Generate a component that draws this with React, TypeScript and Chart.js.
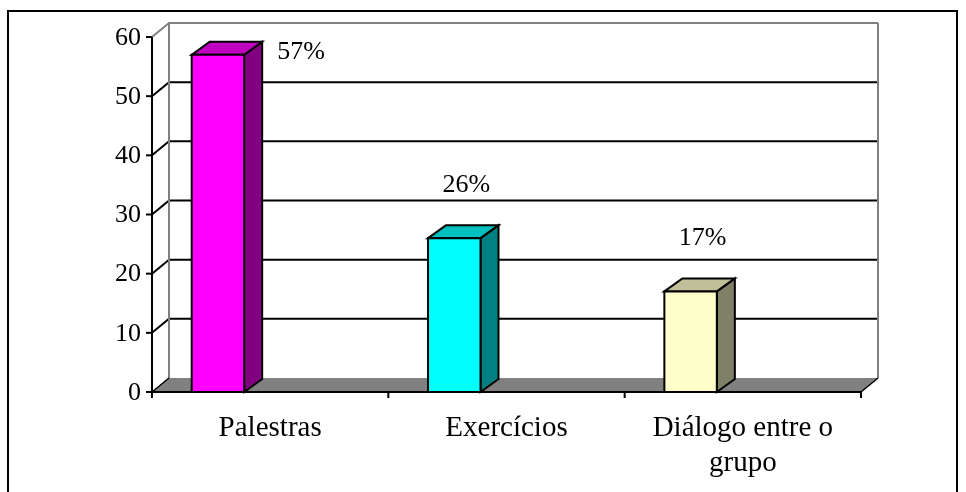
import React, { useEffect, useRef } from "react";
import { Chart, registerables } from "chart.js";

Chart.register(...registerables);

// ---- data ----
const categories: string[][] = [["Palestras"], ["Exercícios"], ["Diálogo entre o", "grupo"]];
const values: number[] = [57, 26, 17];
const valueLabels: string[] = ["57%", "26%", "17%"];
const yMin = 0;
const yMax = 60;
const yStep = 10;

// ---- styles ----
const frontColors = ["#FF00FF", "#00FFFF", "#FFFFCC"];
const topColors = ["#BF00BF", "#00BFBF", "#BFBF99"];
const sideColors = ["#800080", "#008080", "#808066"];
const FONT = '"Liberation Serif", "Times New Roman", serif';

const wallDx = 17;
const wallDy = -14;
const barDx = 18;
const barDy = -13;

const excel3d = {
  id: "excel3d",
  afterDatasetsDraw(chart: any) {
    const ctx: CanvasRenderingContext2D = chart.ctx;
    const xs = chart.scales.x;
    const ys = chart.scales.y;
    const area = chart.chartArea;
    const xL = area.left;
    const xR = area.right;
    const y0 = ys.getPixelForValue(yMin);
    const yTop = ys.getPixelForValue(yMax);
    const n = values.length;
    const catW = (xR - xL) / n;

    ctx.save();
    ctx.lineCap = "butt";
    ctx.lineJoin = "miter";

    // outer frame
    ctx.strokeStyle = "#000";
    ctx.lineWidth = 2;
    ctx.strokeRect(8, 11, 949, 520);

    // back wall gridlines
    for (let v = yMin + yStep; v <= yMax; v += yStep) {
      const yf = ys.getPixelForValue(v);
      ctx.beginPath();
      ctx.moveTo(xL, yf);
      ctx.lineTo(xL + wallDx, yf + wallDy);
      ctx.lineTo(xR + wallDx, yf + wallDy);
      ctx.strokeStyle = v === yMax ? "#808080" : "#000";
      ctx.lineWidth = 2;
      ctx.stroke();
    }
    // wall vertical edges
    ctx.strokeStyle = "#808080";
    ctx.lineWidth = 2;
    ctx.beginPath();
    ctx.moveTo(xL + wallDx, yTop + wallDy);
    ctx.lineTo(xL + wallDx, y0 + wallDy);
    ctx.moveTo(xR + wallDx, yTop + wallDy);
    ctx.lineTo(xR + wallDx, y0 + wallDy);
    ctx.stroke();

    // floor
    ctx.beginPath();
    ctx.moveTo(xL, y0);
    ctx.lineTo(xR, y0);
    ctx.lineTo(xR + wallDx, y0 + wallDy);
    ctx.lineTo(xL + wallDx, y0 + wallDy);
    ctx.closePath();
    ctx.fillStyle = "#808080";
    ctx.fill();
    ctx.strokeStyle = "#000";
    ctx.lineWidth = 1.5;
    ctx.beginPath();
    ctx.moveTo(xL, y0);
    ctx.lineTo(xL + wallDx, y0 + wallDy);
    ctx.moveTo(xR, y0);
    ctx.lineTo(xR + wallDx, y0 + wallDy);
    ctx.stroke();

    // y axis
    ctx.strokeStyle = "#000";
    ctx.lineWidth = 2;
    ctx.beginPath();
    ctx.moveTo(xL, yTop);
    ctx.lineTo(xL, y0 + 1);
    ctx.stroke();
    ctx.font = `26px ${FONT}`;
    ctx.fillStyle = "#000";
    ctx.textAlign = "right";
    ctx.textBaseline = "middle";
    for (let v = yMin; v <= yMax; v += yStep) {
      const y = ys.getPixelForValue(v);
      ctx.beginPath();
      ctx.moveTo(xL - 6, y);
      ctx.lineTo(xL, y);
      ctx.stroke();
      ctx.fillText(String(v), xL - 11, y + 1);
    }

    // x axis
    ctx.beginPath();
    ctx.moveTo(xL - 1, y0);
    ctx.lineTo(xR, y0);
    ctx.stroke();
    for (let i = 0; i <= n; i++) {
      const x = xL + catW * i;
      ctx.beginPath();
      ctx.moveTo(x, y0);
      ctx.lineTo(x, y0 + 6);
      ctx.stroke();
    }

    // bars
    for (let i = 0; i < n; i++) {
      const cx = xs.getPixelForValue(i);
      const left = cx - catW * 0.332;
      const right = left + catW * 0.222;
      const top = ys.getPixelForValue(values[i]);
      ctx.lineWidth = 2;
      ctx.strokeStyle = "#000";
      // side
      ctx.beginPath();
      ctx.moveTo(right, y0);
      ctx.lineTo(right + barDx, y0 + barDy);
      ctx.lineTo(right + barDx, top + barDy);
      ctx.lineTo(right, top);
      ctx.closePath();
      ctx.fillStyle = sideColors[i];
      ctx.fill();
      ctx.stroke();
      // top
      ctx.beginPath();
      ctx.moveTo(left, top);
      ctx.lineTo(left + barDx, top + barDy);
      ctx.lineTo(right + barDx, top + barDy);
      ctx.lineTo(right, top);
      ctx.closePath();
      ctx.fillStyle = topColors[i];
      ctx.fill();
      ctx.stroke();
      // front
      ctx.beginPath();
      ctx.rect(left, top, right - left, y0 - top);
      ctx.fillStyle = frontColors[i];
      ctx.fill();
      ctx.stroke();

      // value label
      ctx.fillStyle = "#000";
      ctx.font = `26px ${FONT}`;
      ctx.textBaseline = "middle";
      if (values[i] + 9 > yMax) {
        ctx.textAlign = "left";
        ctx.fillText(valueLabels[i], right + barDx + 15, ys.getPixelForValue(values[i]) - 3);
      } else {
        ctx.textAlign = "center";
        ctx.fillText(valueLabels[i], (left + right) / 2 + 12, ys.getPixelForValue(values[i] + 9));
      }
    }

    // category labels
    ctx.fillStyle = "#000";
    ctx.font = `29px ${FONT}`;
    ctx.textAlign = "center";
    ctx.textBaseline = "middle";
    for (let i = 0; i < n; i++) {
      const cx = xs.getPixelForValue(i);
      categories[i].forEach((line, k) => {
        ctx.fillText(line, cx, y0 + 36 + k * 35);
      });
    }

    ctx.restore();
  },
};

export default function App() {
  const ref = useRef<HTMLCanvasElement | null>(null);
  useEffect(() => {
    if (!ref.current) return;
    const chart = new Chart(ref.current, {
      type: "bar",
      data: {
        labels: categories.map((c) => c.join(" ")),
        datasets: [
          {
            data: values,
            backgroundColor: "rgba(0,0,0,0)",
            borderWidth: 0,
          },
        ],
      },
      options: {
        responsive: false,
        animation: false,
        events: [],
        layout: { padding: { left: 152, right: 105, top: 37, bottom: 100 } },
        plugins: { legend: { display: false }, tooltip: { enabled: false } },
        scales: {
          x: { type: "category", display: false, offset: true },
          y: { type: "linear", display: false, min: yMin, max: yMax },
        },
      },
      plugins: [excel3d],
    });
    return () => chart.destroy();
  }, []);
  return (
    <div style={{ position: "absolute", left: 0, top: 0, width: 966, height: 492, background: "#fff" }}>
      <canvas ref={ref} width={966} height={492} />
    </div>
  );
}
